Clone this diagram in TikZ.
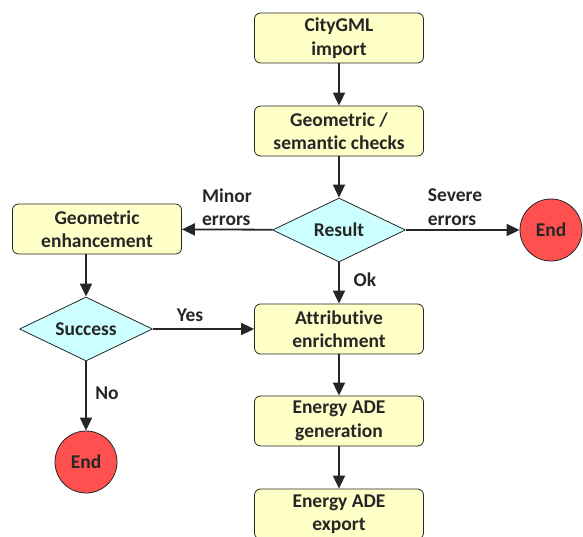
\documentclass[tikz,border=0pt]{standalone}
\usepackage{fontspec}
\setmainfont[Ligatures=NoCommon]{Carlito}
\usetikzlibrary{shapes.geometric,arrows.meta}
\definecolor{boxyellow}{RGB}{255,255,200}
\definecolor{decicyan}{RGB}{204,255,255}
\definecolor{endred}{RGB}{255,80,80}
\definecolor{txtgray}{RGB}{38,38,38}
\begin{document}
\begin{tikzpicture}[x=1pt, y=-1pt, font=\bfseries\fontsize{19.5}{23.5}\selectfont, line join=round, >={Triangle[length=13pt,width=12pt]},
	box/.style={draw=txtgray, fill=boxyellow, rounded corners=6pt, minimum width=169pt, minimum height=50pt, align=center, inner sep=0pt, line width=0.8pt, text=txtgray},
	deci/.style={diamond, aspect=2, draw=txtgray, fill=decicyan, minimum width=133pt, minimum height=64pt, inner sep=0pt, line width=0.8pt, text=txtgray},
	stop/.style={circle, draw=txtgray, fill=endred, minimum size=62pt, inner sep=0pt, line width=0.8pt, text=txtgray},
	lab/.style={align=left, text=txtgray, inner sep=0pt},
	flow/.style={->, line width=1.8pt, draw=txtgray}]
	\useasboundingbox (0,0) rectangle (583,537);
	\node[box] (import) at (339,38) {CityGML\\import};
	\node[box] (checks) at (339,131) {Geometric /\\semantic checks};
	\node[deci] (result) at (339,230) {Result};
	\node[stop] (endA) at (551,230) {End};
	\node[box] (enh) at (97,229) {Geometric\\enhancement};
	\node[deci] (succ) at (86,329) {Success};
	\node[box] (attr) at (339,329) {Attributive\\enrichment};
	\node[stop] (endB) at (86,462) {End};
	\node[box] (gen) at (339,421) {Energy ADE\\generation};
	\node[box] (exp) at (339,514) {Energy ADE\\export};
	%===
	\node[lab] (minor) at (227,207) {Minor\\errors};
	\node[lab] (severe) at (455,207) {Severe\\errors};
	\node[lab] (ok) at (365,280) {Ok};
	\node[lab] (yes) at (190,315) {Yes};
	\node[lab] (no) at (107,393) {No};
	%===
	\draw[flow] (import)--(checks);
	\draw[flow] (checks)--(result);
	\draw[flow] (result)--(enh);
	\draw[flow] (result)--(endA);
	\draw[flow] (result)--(attr);
	\draw[flow] (succ|-enh.south)--(succ);
	\draw[flow] (succ)--(attr);
	\draw[flow] (succ)--(endB);
	\draw[flow] (attr)--(gen);
	\draw[flow] (gen)--(exp);
\end{tikzpicture}
\end{document}
